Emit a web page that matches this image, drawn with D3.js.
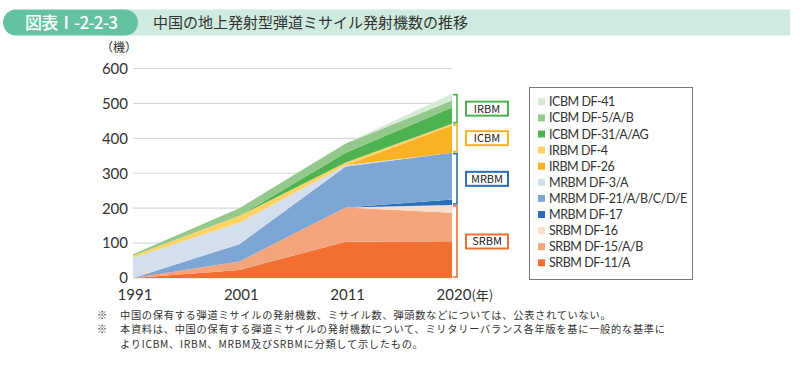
<!DOCTYPE html>
<html>
<head>
<meta charset="utf-8">
<script src="https://cdn.jsdelivr.net/npm/d3@7"></script>
<style>
  body { margin: 0; background: #fff; }
  svg text { font-family: "Noto Sans CJK JP", "Noto Sans", sans-serif; }
  svg .lat { font-family: Lato, "Noto Sans", sans-serif; }
</style>
</head>
<body>
<svg id="chart" width="800" height="365"></svg>
<script>
// 年
const years = ["1991", "2001", "2011", "2020"];
// 各機種の発射機数 (下から積み上げ順)
const df11 = [0, 23, 104, 105];
const df15 = [0, 24, 98, 82];
const df16 = [0, 0, 0, 22];
const df17 = [0, 0, 0, 16];
const df21 = [0, 50, 117, 134];
const df3 = [58, 61, 4, 0];
const df26 = [0, 0, 0, 78];
const df4 = [6, 20, 8, 5];
const df31 = [0, 0, 28, 46];
const df5 = [4, 22, 26, 20];
const df41 = [0, 0, 0, 20];

const seriesNames = ["SRBM DF-11/A", "SRBM DF-15/A/B", "SRBM DF-16", "MRBM DF-17",
  "MRBM DF-21/A/B/C/D/E", "MRBM DF-3/A", "IRBM DF-26", "IRBM DF-4",
  "ICBM DF-31/A/AG", "ICBM DF-5/A/B", "ICBM DF-41"];
const seriesValues = [df11, df15, df16, df17, df21, df3, df26, df4, df31, df5, df41];
const seriesColors = ["#f26f32", "#f5a57c", "#fbdccd", "#2b6fb9",
  "#7ea6d4", "#d3dfec", "#fbb124", "#fdd267",
  "#4db24f", "#93ca8b", "#d6ebd3"];

const yTicks = [0, 100, 200, 300, 400, 500, 600];

// 括弧のグループ (下から)  ※ラベルは原図のまま
const groupLabels = ["SRBM", "MRBM", "ICBM", "IRBM"];
const groupSize = [3, 3, 2, 3];
const groupColors = ["#f26f32", "#2b6fb9", "#fbb124", "#4db24f"];

const notes = [
  ["※", "中国の保有する弾道ミサイルの発射機数、ミサイル数、弾頭数などについては、公表されていない。"],
  ["※", "本資料は、中国の保有する弾道ミサイルの発射機数について、ミリタリーバランス各年版を基に一般的な基準に"],
  ["", "よりICBM、IRBM、MRBM及びSRBMに分類して示したもの。"]
];

const svg = d3.select("#chart");

// タイトル帯
svg.append("rect").attr("x", 110).attr("y", 9.5).attr("width", 680).attr("height", 26)
  .attr("fill", "#cfebdf");
svg.append("rect").attr("x", 3).attr("y", 9.5).attr("width", 135).attr("height", 26)
  .attr("rx", 13).attr("fill", "#63c3a0");
svg.append("text").attr("x", 25).attr("y", 28.5).attr("fill", "#fff")
  .attr("font-size", 17).attr("font-weight", 500)
  .attr("textLength", 93).attr("lengthAdjust", "spacing").text("図表Ⅰ-2-2-3");
svg.append("text").attr("x", 153).attr("y", 28).attr("fill", "#333")
  .attr("font-size", 15).text("中国の地上発射型弾道ミサイル発射機数の推移");

// スケール
const x = d3.scalePoint().domain(years).range([133, 452]);
const y = d3.scaleLinear().domain([0, 600]).range([278, 68.5]);

// グリッド
svg.append("g").selectAll("line").data(yTicks).join("line")
  .attr("x1", 133).attr("x2", 452)
  .attr("y1", d => y(d)).attr("y2", d => y(d))
  .attr("stroke", "#d5dada").attr("stroke-width", 1.2);

// 積み上げデータ
const table = years.map((yr, i) => {
  const row = { year: yr };
  seriesNames.forEach((n, k) => { row[n] = seriesValues[k][i]; });
  return row;
});
const stacked = d3.stack().keys(seriesNames)(table);

const area = d3.area()
  .x(d => x(d.data.year))
  .y0(d => y(d[0]))
  .y1(d => y(d[1]));

svg.append("g").selectAll("path").data(stacked).join("path")
  .attr("d", area)
  .attr("fill", (d, i) => seriesColors[i]);

// 軸ラベル
svg.append("g").selectAll("text").data(yTicks).join("text")
  .attr("class", "lat")
  .attr("x", 128).attr("y", d => y(d)).attr("dy", "0.36em")
  .attr("text-anchor", "end").attr("font-size", 15).attr("fill", "#333")
  .text(d => d);
svg.append("text").attr("x", 119).attr("y", 52).attr("text-anchor", "middle")
  .attr("font-size", 12).attr("fill", "#333").text("（機）");

const xl = svg.append("g").selectAll("text").data(years).join("text")
  .attr("class", "lat")
  .attr("x", d => x(d) + 2).attr("y", 300)
  .attr("text-anchor", "middle").attr("font-size", 15).attr("fill", "#333")
  .text(d => d);
const lastLabel = xl.filter((d, i) => i === years.length - 1).node();
const lw = lastLabel.getComputedTextLength();
svg.append("text").attr("x", x(years[years.length - 1]) + 2 + lw / 2).attr("y", 300)
  .attr("font-size", 13).attr("fill", "#333").text("(年)");

// 括弧とラベル
const last = years.length - 1;
let start = 0;
groupLabels.forEach((lab, g) => {
  const lo = stacked[start][last][0];
  const hi = stacked[start + groupSize[g] - 1][last][1];
  start += groupSize[g];
  const y0 = y(lo) - 1, y1 = y(hi) + 1;
  const bx = 457;
  svg.append("path")
    .attr("d", `M${bx - 4},${y1} H${bx} V${y0} H${bx - 4}`)
    .attr("fill", "none").attr("stroke", groupColors[g]).attr("stroke-width", 1.6);
  const cy = (y0 + y1) / 2;
  svg.append("rect").attr("x", 466).attr("y", cy - 7).attr("width", 42).attr("height", 14)
    .attr("fill", "#fff").attr("stroke", groupColors[g]).attr("stroke-width", 2);
  svg.append("text").attr("x", 487).attr("y", cy).attr("dy", "0.36em")
    .attr("text-anchor", "middle").attr("font-size", 11).attr("fill", "#222")
    .text(lab);
});

// 凡例
svg.append("rect").attr("x", 529.5).attr("y", 87.5).attr("width", 163).attr("height", 192)
  .attr("fill", "#fff").attr("stroke", "#777").attr("stroke-width", 1);
const legendOrder = d3.range(seriesNames.length).reverse();
const lg = svg.append("g").selectAll("g").data(legendOrder).join("g")
  .attr("transform", (d, i) => `translate(538,${101.8 + i * 16.1})`);
lg.append("rect").attr("x", 0).attr("y", -3.5).attr("width", 7).attr("height", 7)
  .attr("fill", d => seriesColors[d]);
lg.append("text").attr("class", "lat").attr("x", 11).attr("dy", "0.36em")
  .attr("font-size", 12.5).attr("letter-spacing", -0.45).attr("fill", "#333")
  .text(d => seriesNames[d]);

// 注記
const nt = svg.append("g").selectAll("g").data(notes).join("g")
  .attr("transform", (d, i) => `translate(0,${318.5 + i * 14.8})`);
nt.append("text").attr("x", 97).attr("font-size", 10.2).attr("fill", "#333").text(d => d[0]);
nt.append("text").attr("x", 120).attr("font-size", 10.2).attr("letter-spacing", 0.75)
  .attr("fill", "#333").text(d => d[1]);
</script>
</body>
</html>
